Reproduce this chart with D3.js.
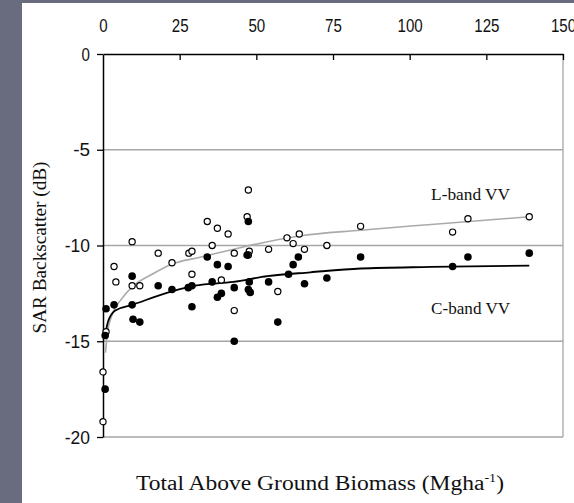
<!DOCTYPE html>
<html>
<head>
<meta charset="utf-8">
<script src="https://cdn.jsdelivr.net/npm/d3@7"></script>
<style>
  body { margin: 0; background: #686c7e; }
  #chart { width: 574px; height: 503px; }
</style>
</head>
<body>
<div id="chart"></div>
<script>
// tick labels
const xTicks = [0, 25, 50, 75, 100, 125, 150];
const yTicks = [0, -5, -10, -15, -20];

// L-band VV (open circles)
const lbandX = [0, 0, 1, 3.6, 4.2, 9.5, 9.5, 12, 18, 22.5, 28, 29, 29, 34, 35.6, 37.3, 38.6, 40.8,
  42.8, 42.8, 47, 47.4, 47.7, 47.4, 54, 57, 60, 62, 64, 65.7, 73, 84, 114, 119, 139];
const lbandY = [-19.2, -16.6, -14.5, -11.1, -11.9, -9.8, -12.1, -12.1, -10.4, -10.9, -10.4, -10.3, -11.5,
  -8.75, -10.0, -9.1, -11.8, -9.4, -10.4, -13.4, -8.5, -7.1, -10.3, -10.5, -10.2, -12.4, -9.6, -9.9,
  -9.4, -10.2, -10.0, -9.0, -9.3, -8.6, -8.5];

// C-band VV (filled)
const cbandX = [0.7, 0.7, 1, 3.6, 9.5, 9.5, 9.8, 12, 18, 22.5, 27.8, 29, 29, 34, 35.6, 37.3, 37.3, 38.6,
  40.8, 42.8, 42.8, 47, 47.4, 47.7, 47.4, 48, 54, 57, 60.5, 62, 63.7, 65.7, 73, 84, 114, 119, 139];
const cbandY = [-17.5, -14.7, -13.3, -13.1, -11.6, -13.1, -13.85, -14.0, -12.1, -12.3, -12.2, -12.1, -13.2,
  -10.6, -11.9, -11.0, -12.7, -12.5, -11.1, -12.2, -15.0, -10.5, -8.75, -11.9, -12.3, -12.45, -11.9,
  -14.0, -11.5, -11.0, -10.6, -12.0, -11.7, -10.6, -11.1, -10.6, -10.4];

// trend lines
const lTrendX = [0.8, 1.5, 3, 6, 10, 16, 22, 32, 45, 64, 84, 107, 139];
const lTrendY = [-15.6, -14.5, -13.6, -12.8, -12.1, -11.5, -11.0, -10.6, -10.1, -9.5, -9.2, -8.9, -8.5];
const cTrendX = [0.7, 1.6, 4, 9.5, 22.5, 30, 42.5, 53.6, 67.6, 84, 107, 139];
const cTrendY = [-14.7, -14.0, -13.4, -13.1, -12.4, -12.1, -11.9, -11.6, -11.4, -11.2, -11.12, -11.05];

const W = 574, H = 503;
const margin = { top: 54, right: 11, bottom: 66, left: 103 };
const width = W - margin.left - margin.right;
const height = H - margin.top - margin.bottom;

const svg = d3.select("#chart").append("svg")
  .attr("width", W).attr("height", H);

// white panel inside the grey frame
svg.append("rect").attr("x", 22).attr("y", 3).attr("width", W - 22).attr("height", H - 3).attr("fill", "#fff");

const g = svg.append("g").attr("transform", `translate(${margin.left},${margin.top})`);

const x = d3.scaleLinear().domain([0, 150]).range([0, width]);
const y = d3.scaleLinear().domain([-20, 0]).range([height, 0]);

// grid lines + grey frame on the right
g.append("g").selectAll("line").data(yTicks.filter(d => d !== 0))
  .join("line")
  .attr("x1", 0).attr("x2", width)
  .attr("y1", d => y(d)).attr("y2", d => y(d))
  .attr("stroke", "#a6a6a6").attr("stroke-width", 1.3);
g.append("line").attr("x1", width).attr("x2", width).attr("y1", 0).attr("y2", height)
  .attr("stroke", "#a6a6a6").attr("stroke-width", 1.3);

const tickFont = "'Liberation Sans', Arial, sans-serif";
const fmt = d => String(d); // plain hyphen, like the original

const xAxis = g.append("g")
  .call(d3.axisTop(x).tickValues(xTicks).tickFormat(fmt)
    .tickSizeInner(-6).tickSizeOuter(0).tickPadding(22));
const yAxis = g.append("g")
  .call(d3.axisLeft(y).tickValues(yTicks).tickFormat(fmt)
    .tickSizeInner(6).tickSizeOuter(0).tickPadding(7));

[xAxis, yAxis].forEach(a => {
  a.select(".domain").attr("stroke", "#000").attr("stroke-width", 1.5);
  a.selectAll(".tick line").attr("stroke", "#000").attr("stroke-width", 1.3);
  // narrow, tall digits
  a.selectAll("text")
    .attr("font-family", tickFont).attr("font-size", 19).attr("fill", "#111")
    .attr("textLength", function () { return this.textContent.length * 8.4; })
    .attr("lengthAdjust", "spacingAndGlyphs");
});
xAxis.selectAll(".tick").filter(d => d === 0).select("line").remove();

// trend lines
const line = d3.line().x(d => x(d[0])).y(d => y(d[1])).curve(d3.curveMonotoneX);
g.append("path").datum(d3.zip(lTrendX, lTrendY))
  .attr("fill", "none").attr("stroke", "#aaaaaa").attr("stroke-width", 1.6).attr("d", line);
g.append("path").datum(d3.zip(cTrendX, cTrendY))
  .attr("fill", "none").attr("stroke", "#000").attr("stroke-width", 1.8).attr("d", line);

// points
g.append("g").selectAll("circle").data(d3.zip(lbandX, lbandY))
  .join("circle")
  .attr("cx", d => x(d[0])).attr("cy", d => y(d[1])).attr("r", 3.1)
  .attr("fill", "#fff").attr("stroke", "#000").attr("stroke-width", 1.2);
g.append("g").selectAll("circle").data(d3.zip(cbandX, cbandY))
  .join("circle")
  .attr("cx", d => x(d[0])).attr("cy", d => y(d[1])).attr("r", 3.8)
  .attr("fill", "#000");

// series labels
const serif = "'Liberation Serif', 'DejaVu Serif', serif";
g.append("text").attr("x", x(107)).attr("y", y(-7.6))
  .attr("font-family", serif).attr("font-size", 17).attr("fill", "#111")
  .attr("textLength", 79).attr("lengthAdjust", "spacingAndGlyphs").text("L-band VV");
g.append("text").attr("x", x(107)).attr("y", y(-13.6))
  .attr("font-family", serif).attr("font-size", 17).attr("fill", "#111")
  .attr("textLength", 79).attr("lengthAdjust", "spacingAndGlyphs").text("C-band VV");

// axis titles
svg.append("text")
  .attr("transform", `translate(46,${margin.top + height / 2 + 2}) rotate(-90)`)
  .attr("text-anchor", "middle")
  .attr("font-family", serif).attr("font-size", 19).attr("fill", "#111")
  .attr("textLength", 172).attr("lengthAdjust", "spacingAndGlyphs")
  .text("SAR Backscatter (dB)");

const xt = svg.append("text")
  .attr("x", 320).attr("y", 490)
  .attr("text-anchor", "middle")
  .attr("font-family", serif).attr("font-size", 20).attr("fill", "#111")
  .attr("textLength", 368).attr("lengthAdjust", "spacingAndGlyphs");
xt.append("tspan").text("Total Above Ground Biomass (Mgha");
xt.append("tspan").attr("font-size", 12).attr("dy", -8).text("-1");
xt.append("tspan").attr("dy", 8).text(")");
</script>
</body>
</html>
